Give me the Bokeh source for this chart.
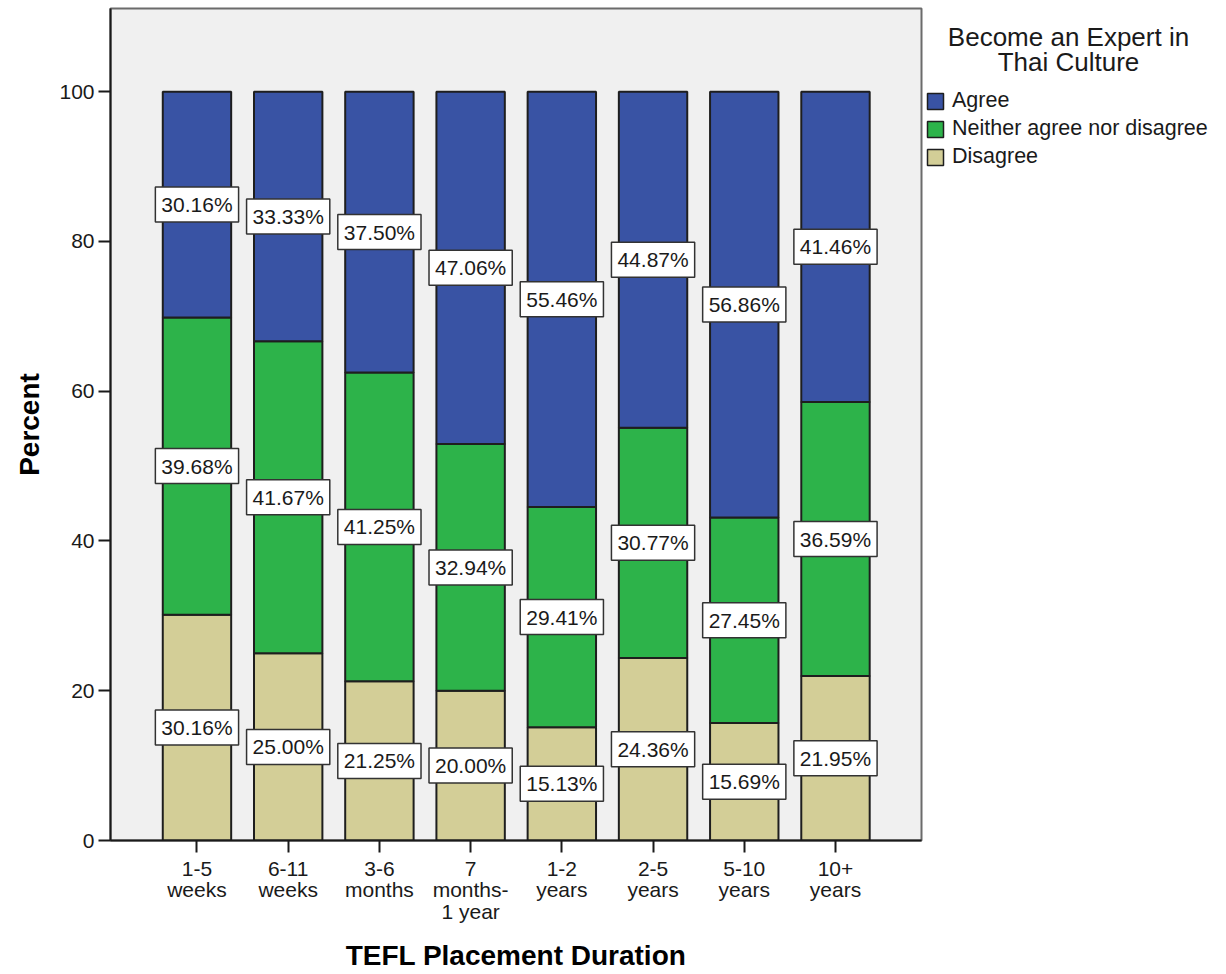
from bokeh.plotting import figure
from bokeh.layouts import row
from bokeh.models import Range1d, FixedTicker, ColumnDataSource, Legend, LegendItem, Label
from bokeh.embed import file_html
from bokeh.resources import INLINE

# ---- data ----
categories = ["1-5\nweeks", "6-11\nweeks", "3-6\nmonths", "7\nmonths-\n1 year",
              "1-2\nyears", "2-5\nyears", "5-10\nyears", "10+\nyears"]
disagree = [30.16, 25.00, 21.25, 20.00, 15.13, 24.36, 15.69, 21.95]
neither = [39.68, 41.67, 41.25, 32.94, 29.41, 30.77, 27.45, 36.59]
agree = [30.16, 33.33, 37.50, 47.06, 55.46, 44.87, 56.86, 41.46]
series_names = ["Disagree", "Neither agree nor disagree", "Agree"]
y_ticks = [0, 20, 40, 60, 80, 100]
legend_title = ["Become an Expert in", "Thai Culture"]
x_title = "TEFL Placement Duration"
y_title = "Percent"

# ---- styles ----
colors = ["#d3ce97", "#2db34a", "#3953a4"]
FONT = "Liberation Sans"

xs = list(range(len(categories)))
src = ColumnDataSource(dict(x=xs, s0=disagree, s1=neither, s2=agree))

p = figure(width=923, height=974,
           x_range=Range1d(-0.948, 7.943), y_range=Range1d(0, 111.1),
           output_backend="svg", toolbar_location=None,
           min_border_left=110, min_border_right=2,
           min_border_top=8, min_border_bottom=132,
           background_fill_color="#f0f0f0", border_fill_color="white")

rs = p.vbar_stack(["s0", "s1", "s2"], x="x", width=0.75, source=src,
                  fill_color=colors, line_color="#1e1e1e", line_width=2)

# value labels in white boxes, centred in each segment
for i in xs:
    base = 0.0
    for vals in (disagree, neither, agree):
        v = vals[i]
        p.add_layout(Label(x=i, y=base + v / 2, text=f"{v:.2f}%",
                           text_align="center", text_baseline="middle",
                           text_font=FONT, text_font_size="21px",
                           text_color="#1a1a1a",
                           background_fill_color="white",
                           border_line_color="#333333", border_line_width=1.5,
                           padding=6))
        base += v

# axes
p.xaxis.ticker = FixedTicker(ticks=xs)
p.xaxis.major_label_overrides = {i: c for i, c in enumerate(categories)}
p.yaxis.ticker = FixedTicker(ticks=y_ticks)
for ax in (p.xaxis[0], p.yaxis[0]):
    ax.axis_line_color = "#1a1a1a"
    ax.axis_line_width = 2
    ax.major_tick_line_color = "#1a1a1a"
    ax.major_tick_line_width = 2
    ax.major_tick_in = 0
    ax.major_tick_out = 12
    ax.minor_tick_line_color = None
    ax.major_label_text_font = FONT
    ax.major_label_text_color = "#1a1a1a"
    ax.axis_label_text_font = FONT
    ax.axis_label_text_font_style = "bold"
    ax.axis_label_text_font_size = "28px"
    ax.axis_label_text_color = "#000000"
    ax.major_label_standoff = 4

p.xaxis.major_label_text_font_size = "21px"
p.xaxis.major_label_text_line_height = 0.95
p.yaxis.major_label_text_font_size = "21px"
p.xaxis.axis_label = x_title
p.yaxis.axis_label = y_title
p.xaxis.axis_label_standoff = 14
p.yaxis.axis_label_standoff = 11

p.xgrid.visible = False
p.ygrid.visible = False
p.outline_line_color = "#6b6b6b"
p.outline_line_width = 2

# ---- legend panel (separate, axis-less figure to the right) ----
# its frame is aligned with the main frame (rows 8..842), so the y range
# maps that span to page-like units (974 - pixel row)
q = figure(width=303, height=974, x_range=Range1d(0, 303), y_range=Range1d(132, 966),
           x_axis_type=None, y_axis_type=None,
           output_backend="svg", toolbar_location=None,
           min_border=0, outline_line_color=None,
           background_fill_color="white", border_fill_color="white")
q.xgrid.visible = False
q.ygrid.visible = False

# hidden renderers that carry the series styles for the legend swatches
swatches = [q.vbar(x="x", top=col, width=0.75, source=src, fill_color=colors[k],
                   line_color="#1e1e1e", line_width=1.5, visible=False)
            for k, col in enumerate(["s0", "s1", "s2"])]
items = [LegendItem(label=series_names[k], renderers=[swatches[k]]) for k in (2, 1, 0)]
legend = Legend(items=items, location=(2, 671),
                glyph_width=20, glyph_height=20, label_height=20,
                label_standoff=7, spacing=3, padding=0, margin=0,
                border_line_color=None, background_fill_alpha=0,
                inactive_fill_alpha=0,
                label_text_font=FONT, label_text_font_size="21.5px",
                label_text_color="#1a1a1a")
q.add_layout(legend)

for k, t in enumerate(legend_title):
    q.add_layout(Label(x=145, y=937 - k * 25, text=t,
                       text_align="center", text_baseline="middle",
                       text_font=FONT, text_font_size="26px",
                       text_color="#1a1a1a"))

layout = row(p, q, spacing=0)
open("out.html", "w").write(file_html(layout, INLINE))
